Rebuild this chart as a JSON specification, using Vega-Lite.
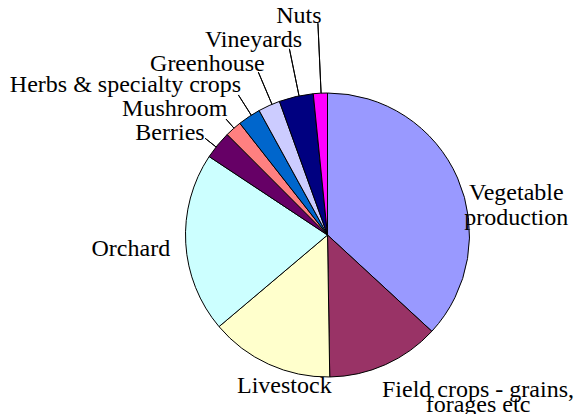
{
  "$schema": "https://vega.github.io/schema/vega-lite/v6.json",
  "width": 509,
  "height": 358,
  "autosize": {"type": "none"},
  "padding": {"left": 73, "top": 56, "right": 0, "bottom": 0},
  "background": "white",
  "title": {"text": "Figure 1: Type of Farms in the Region", "font": "Liberation Serif, Times New Roman, Times, serif", "fontSize": 24, "fontWeight": "bold", "color": "black", "anchor": "middle", "frame": "group", "baseline": "alphabetic", "offset": 57, "dx": -57},
  "data": {"values": [
    {"type": "Vegetable\nproduction", "value": 36.9, "i": 1},
    {"type": "Field crops - grains,\nforages etc", "value": 12.9, "i": 2},
    {"type": "Livestock", "value": 14.1, "i": 3},
    {"type": "Orchard", "value": 20.5, "i": 4},
    {"type": "Berries", "value": 3.2, "i": 5},
    {"type": "Mushroom", "value": 1.9, "i": 6},
    {"type": "Herbs & specialty crops", "value": 2.6, "i": 7},
    {"type": "Greenhouse", "value": 2.5, "i": 8},
    {"type": "Vineyards", "value": 3.9, "i": 9},
    {"type": "Nuts", "value": 1.6, "i": 10}
  ]},
  "config": {
    "font": "Liberation Serif, Times New Roman, Times, serif",
    "view": {"stroke": null},
    "text": {"font": "Liberation Serif, Times New Roman, Times, serif", "fontSize": 24, "lineBreak": "\n", "color": "black", "baseline": "middle"}
  },
  "encoding": {
    "theta": {"field": "value", "type": "quantitative", "stack": true},
    "order": {"field": "i", "type": "quantitative"},
    "detail": {"field": "type", "type": "nominal"}
  },
  "layer": [
    {
      "mark": {"type": "arc", "outerRadius": 142, "stroke": "black", "strokeWidth": 1},
      "encoding": {
        "color": {"field": "type", "type": "nominal", "legend": null,
          "scale": {"domain": ["Vegetable\nproduction", "Field crops - grains,\nforages etc", "Livestock", "Orchard", "Berries", "Mushroom", "Herbs & specialty crops", "Greenhouse", "Vineyards", "Nuts"],
                    "range": ["#9999FF", "#993366", "#FFFFCC", "#CCFFFF", "#660066", "#FF8080", "#0066CC", "#CCCCFF", "#000080", "#FF00FF"]}}
      }
    },
    {"mark": {"type": "arc", "innerRadius": 142, "outerRadius": 156, "padAngle": 1, "fillOpacity": 0, "stroke": "black", "strokeWidth": 1, "thetaOffset": -0.017, "theta2Offset": -0.017},
     "encoding": {"strokeOpacity": {"condition": {"test": "datum.i === 5", "value": 1}, "value": 0}}},
    {"mark": {"type": "arc", "innerRadius": 142, "outerRadius": 154, "padAngle": 1, "fillOpacity": 0, "stroke": "black", "strokeWidth": 1, "thetaOffset": 0.006, "theta2Offset": 0.006},
     "encoding": {"strokeOpacity": {"condition": {"test": "datum.i === 6", "value": 1}, "value": 0}}},
    {"mark": {"type": "arc", "innerRadius": 142, "outerRadius": 166, "padAngle": 1, "fillOpacity": 0, "stroke": "black", "strokeWidth": 1, "thetaOffset": 0.017, "theta2Offset": 0.017},
     "encoding": {"strokeOpacity": {"condition": {"test": "datum.i === 7", "value": 1}, "value": 0}}},
    {"mark": {"type": "arc", "innerRadius": 142, "outerRadius": 177, "padAngle": 1, "fillOpacity": 0, "stroke": "black", "strokeWidth": 1, "thetaOffset": 0.022, "theta2Offset": 0.022},
     "encoding": {"strokeOpacity": {"condition": {"test": "datum.i === 8", "value": 1}, "value": 0}}},
    {"mark": {"type": "arc", "innerRadius": 142, "outerRadius": 190, "padAngle": 1, "fillOpacity": 0, "stroke": "black", "strokeWidth": 1, "thetaOffset": 0.021, "theta2Offset": 0.021},
     "encoding": {"strokeOpacity": {"condition": {"test": "datum.i === 9", "value": 1}, "value": 0}}},
    {"mark": {"type": "arc", "innerRadius": 142, "outerRadius": 212, "padAngle": 1, "fillOpacity": 0, "stroke": "black", "strokeWidth": 1, "thetaOffset": 0.005, "theta2Offset": 0.005},
     "encoding": {"strokeOpacity": {"condition": {"test": "datum.i === 10", "value": 1}, "value": 0}}},
    {"mark": {"type": "text", "radius": 193, "dx": 12, "dy": 35, "align": "center", "lineHeight": 25},
     "encoding": {"text": {"condition": {"test": "datum.i === 1", "field": "type", "type": "nominal"}, "value": ""}}},
    {"mark": {"type": "text", "radius": 207, "dx": 66, "dy": -34, "align": "center", "lineHeight": 15},
     "encoding": {"text": {"condition": {"test": "datum.i === 2", "field": "type", "type": "nominal"}, "value": ""}}},
    {"mark": {"type": "text", "radius": 155, "dx": 21, "dy": 10, "align": "center"},
     "encoding": {"text": {"condition": {"test": "datum.i === 3", "field": "type", "type": "nominal"}, "value": ""}}},
    {"mark": {"type": "text", "radius": 197, "dx": 0, "dy": 3, "align": "center"},
     "encoding": {"text": {"condition": {"test": "datum.i === 4", "field": "type", "type": "nominal"}, "value": ""}}},
    {"mark": {"type": "text", "radius": 160, "dx": 1, "dy": -1, "align": "right"},
     "encoding": {"text": {"condition": {"test": "datum.i === 5", "field": "type", "type": "nominal"}, "value": ""}}},
    {"mark": {"type": "text", "radius": 160, "dx": 6, "dy": -6, "align": "right"},
     "encoding": {"text": {"condition": {"test": "datum.i === 6", "field": "type", "type": "nominal"}, "value": ""}}},
    {"mark": {"type": "text", "radius": 173, "dx": 9, "dy": -6, "align": "right"},
     "encoding": {"text": {"condition": {"test": "datum.i === 7", "field": "type", "type": "nominal"}, "value": ""}}},
    {"mark": {"type": "text", "radius": 182, "dx": 12, "dy": -5, "align": "right"},
     "encoding": {"text": {"condition": {"test": "datum.i === 8", "field": "type", "type": "nominal"}, "value": ""}}},
    {"mark": {"type": "text", "radius": 196, "dx": 18, "dy": -4, "align": "right"},
     "encoding": {"text": {"condition": {"test": "datum.i === 9", "field": "type", "type": "nominal"}, "value": ""}}},
    {"mark": {"type": "text", "radius": 219, "dx": 5, "dy": 0, "align": "right"},
     "encoding": {"text": {"condition": {"test": "datum.i === 10", "field": "type", "type": "nominal"}, "value": ""}}}
  ]
}
